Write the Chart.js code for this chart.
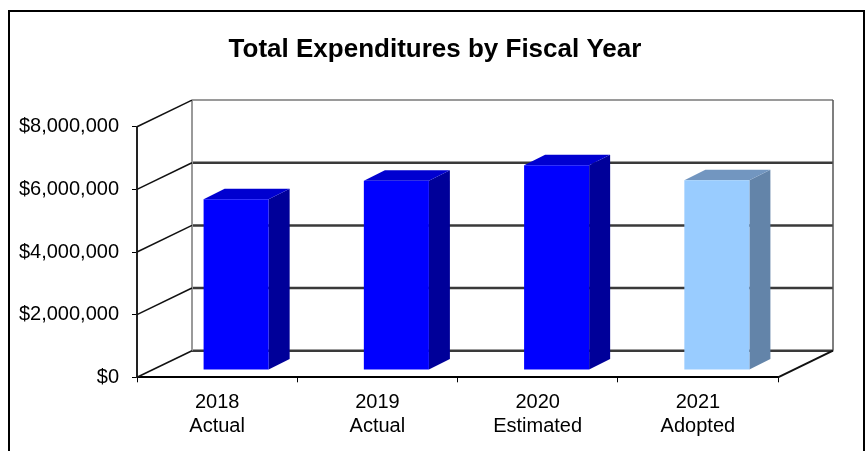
<!DOCTYPE html>
<html>
<head>
<meta charset="utf-8">
<title>Total Expenditures by Fiscal Year</title>
<script src="https://cdn.jsdelivr.net/npm/chart.js@4.4.1/dist/chart.umd.min.js"></script>
<style>
  html, body { margin: 0; padding: 0; background: #ffffff; }
  #wrap { width: 868px; height: 451px; }
</style>
</head>
<body>
<div id="wrap"><canvas id="chart" width="868" height="451"></canvas></div>
<script>
// Fiscal years shown along the floor (two-line labels)
const fiscalYears = ['2018', '2019', '2020', '2021'];
const yearStatus = ['Actual', 'Actual', 'Estimated', 'Adopted'];
// Total expenditures in dollars
const expenditures = [5450000, 6040000, 6540000, 6060000];
// Value axis range
const axisMin = 0;
const axisMax = 8000000;
const axisStep = 2000000;
const chartTitle = 'Total Expenditures by Fiscal Year';

// Face colours for each box: front, side, top
const frontColors = ['#0000ff', '#0000ff', '#0000ff', '#99ccff'];
const sideColors  = ['#000099', '#000099', '#000099', '#6384a9'];
const topColors   = ['#0000d0', '#0000d0', '#0000d0', '#7296c0'];

// Perspective offsets of the back wall and of the box depth
const WALL_DX = 55, WALL_DY = -26.6;
const BOX_SHIFT_X = 19, BOX_SHIFT_Y = -7.3;
const BOX_DX = 21, BOX_DY = -10.5;

const FONT = "'Liberation Sans', Arial, sans-serif";
const labels = fiscalYears.map((y, i) => [y, yearStatus[i]]);

function line(ctx, x1, y1, x2, y2, color, width) {
  ctx.beginPath();
  ctx.strokeStyle = color;
  ctx.lineWidth = width;
  ctx.moveTo(x1, y1);
  ctx.lineTo(x2, y2);
  ctx.stroke();
}

function poly(ctx, pts, color) {
  ctx.beginPath();
  ctx.moveTo(pts[0][0], pts[0][1]);
  for (let i = 1; i < pts.length; i++) ctx.lineTo(pts[i][0], pts[i][1]);
  ctx.closePath();
  ctx.fillStyle = color;
  ctx.fill();
}

const box3d = {
  id: 'box3d',
  beforeDraw(chart) {
    const ctx = chart.ctx;
    ctx.save();
    ctx.fillStyle = '#ffffff';
    ctx.fillRect(0, 0, chart.width, chart.height);
    // outer frame
    ctx.strokeStyle = '#000000';
    ctx.lineWidth = 2;
    ctx.strokeRect(9, 11, 855, 470);
    // title, centred in the frame
    ctx.fillStyle = '#000000';
    ctx.font = 'bold 26px ' + FONT;
    ctx.textAlign = 'center';
    ctx.textBaseline = 'alphabetic';
    ctx.fillText(chartTitle, 435, 57);
    ctx.restore();
  },
  beforeDatasetsDraw(chart) {
    const ctx = chart.ctx;
    const area = chart.chartArea;
    const ys = chart.scales.y;
    const left = area.left, right = area.right;
    ctx.save();
    ctx.lineCap = 'butt';
    const ticks = ys.ticks.map(t => t.value);
    // back wall horizontal lines
    ticks.forEach(v => {
      const py = ys.getPixelForValue(v) + WALL_DY;
      const top = v === axisMax;
      line(ctx, left + WALL_DX, py, right + WALL_DX, py, top ? '#9a9a9a' : '#3a3a3a', top ? 2 : 2.5);
    });
    // back wall vertical edges
    const yTop = ys.getPixelForValue(axisMax) + WALL_DY;
    const yBot = ys.getPixelForValue(axisMin) + WALL_DY;
    line(ctx, left + WALL_DX, yTop, left + WALL_DX, yBot, '#9a9a9a', 2);
    line(ctx, right + WALL_DX, yTop, right + WALL_DX, yBot, '#555555', 1.5);
    // side wall diagonals from each tick
    ticks.forEach(v => {
      const py = ys.getPixelForValue(v);
      line(ctx, left, py, left + WALL_DX, py + WALL_DY, '#111111', 1.5);
    });
    // floor right edge
    const y0 = ys.getPixelForValue(axisMin);
    line(ctx, right, y0, right + WALL_DX, y0 + WALL_DY, '#111111', 2);
    ctx.restore();
  },
  afterDatasetsDraw(chart) {
    const ctx = chart.ctx;
    const meta = chart.getDatasetMeta(0);
    ctx.save();
    meta.data.forEach((bar, i) => {
      const p = bar.getProps(['x', 'y', 'base', 'width'], true);
      const l = p.x - p.width / 2 + BOX_SHIFT_X;
      const r = p.x + p.width / 2 + BOX_SHIFT_X;
      const t = p.y + BOX_SHIFT_Y;
      const b = p.base + BOX_SHIFT_Y;
      poly(ctx, [[r, t], [r + BOX_DX, t + BOX_DY], [r + BOX_DX, b + BOX_DY], [r, b]], sideColors[i]);
      poly(ctx, [[l, t], [l + BOX_DX, t + BOX_DY], [r + BOX_DX, t + BOX_DY], [r, t]], topColors[i]);
      poly(ctx, [[l, t], [r, t], [r, b], [l, b]], frontColors[i]);
    });
    ctx.restore();
  }
};

Chart.defaults.font.family = FONT;
Chart.defaults.color = '#000000';

new Chart(document.getElementById('chart'), {
  type: 'bar',
  data: {
    labels: labels,
    datasets: [{
      data: expenditures,
      backgroundColor: 'rgba(0,0,0,0)',
      borderWidth: 0,
      categoryPercentage: 1,
      barPercentage: 0.406
    }]
  },
  options: {
    responsive: false,
    animation: false,
    devicePixelRatio: 1,
    layout: { padding: { left: 0, right: 90, top: 126.7, bottom: 0 } },
    plugins: {
      legend: { display: false },
      tooltip: { enabled: false },
      title: { display: false }
    },
    scales: {
      x: {
        offset: true,
        grid: { display: true, drawOnChartArea: false, drawTicks: true, tickLength: 5, color: '#000000', offset: true },
        border: { display: true, color: '#000000', width: 2 },
        ticks: { font: { size: 20 }, padding: 8, color: '#000000', maxRotation: 0, autoSkip: false },
        afterFit(axis) { axis.height = 73.7; }
      },
      y: {
        min: axisMin,
        max: axisMax,
        grid: { display: true, drawOnChartArea: false, drawTicks: true, tickLength: 5, color: '#000000' },
        border: { display: true, color: '#222222', width: 2 },
        ticks: {
          stepSize: axisStep,
          font: { size: 20 },
          padding: 13,
          color: '#000000',
          callback: v => '$' + Number(v).toLocaleString('en-US')
        },
        afterFit(axis) { axis.width = 137; }
      }
    }
  },
  plugins: [box3d]
});
</script>
</body>
</html>
